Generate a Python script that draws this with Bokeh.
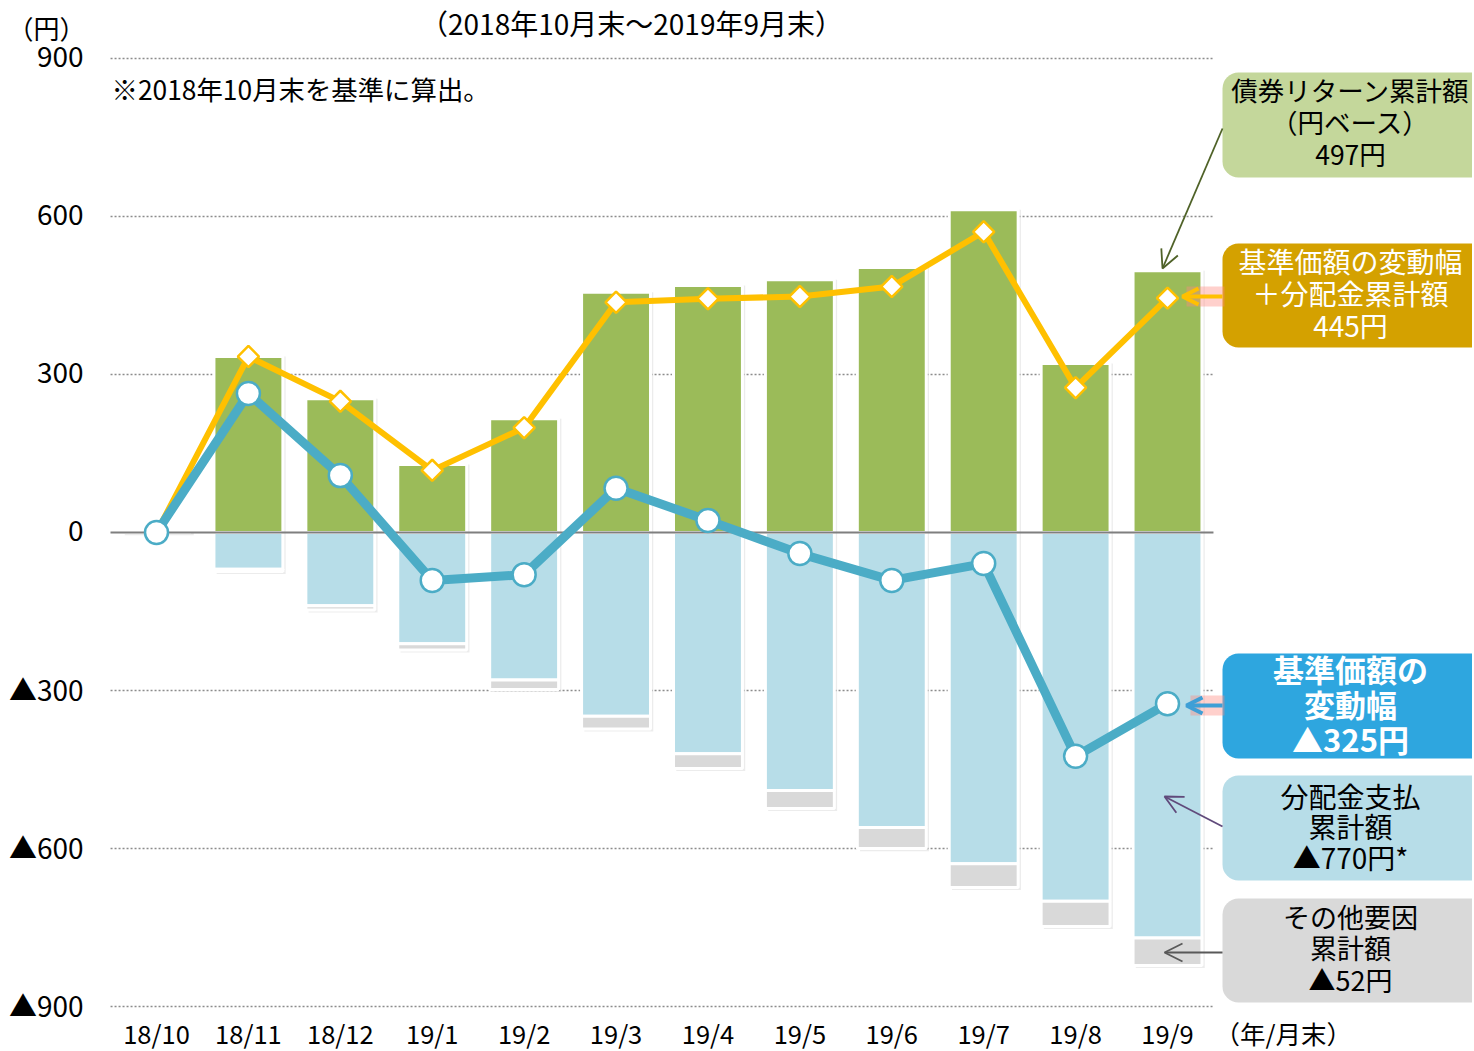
import math
from bokeh.plotting import figure
from bokeh.models import Range1d, BoxAnnotation, Arrow, OpenHead, ColumnDataSource
from bokeh.core.properties import value
from bokeh.embed import file_html
from bokeh.resources import INLINE

# ---- data ----
months = ["18/10", "18/11", "18/12", "19/1", "19/2", "19/3", "19/4", "19/5", "19/6", "19/7", "19/8", "19/9"]
bond_return = [0, 334, 254, 129, 216, 456, 469, 480, 503, 613, 321, 497]          # 債券リターン累計額
distribution = [0, -70, -139, -211, -280, -349, -420, -490, -560, -629, -700, -770]  # 分配金支払累計額
other_factors = [0, -4, -8, -12, -18, -24, -28, -34, -40, -45, -48, -52]            # その他要因累計額
nav_change = [0, 264, 108, -91, -80, 84, 23, -40, -91, -59, -425, -325]             # 基準価額の変動幅
nav_plus_dist = [0, 334, 249, 118, 199, 437, 444, 448, 467, 571, 275, 445]          # 基準価額の変動幅+分配金累計額
y_ticks = [900, 600, 300, 0, -300, -600, -900]
y_tick_labels = ["900", "600", "300", "0", "▲300", "▲600", "▲900"]

FONT = "Noto Sans CJK JP"
TXT_OFF = -2  # small visual correction of the CJK font's middle baseline

# canvas-pixel -> data helpers (for annotation placement)
X0, DX = 156.0, 91.91
Y0, SY = 532.0, 158.0 / 300.0
def dx(px):
    return (px - X0) / DX
def dy(py):
    return (Y0 - py) / SY

W, H = 1472, 1050
p = figure(width=W, height=H, output_backend="svg", toolbar_location=None,
           x_range=Range1d(dx(0), dx(W)), y_range=Range1d(dy(H), dy(0)),
           min_border_left=0, min_border_right=0, min_border_top=0, min_border_bottom=0)
p.outline_line_color = None
p.xgrid.visible = False
p.ygrid.visible = False
p.xaxis.visible = False
p.yaxis.visible = False
p.background_fill_color = "white"

idx = list(range(len(months)))

# dotted gridlines (only across the category span)
grid_vals = [v for v in y_ticks if v != 0]
p.segment(x0=[-0.5] * len(grid_vals), x1=[11.5] * len(grid_vals), y0=grid_vals, y1=grid_vals,
          line_color="#8c8c8c", line_width=1.5, line_dash="2 2")

# bars
bw = 0.75
dist_bottom = [d + o for d, o in zip(distribution, other_factors)]
src = ColumnDataSource(dict(x=idx, bond=bond_return, dist=distribution, dbot=dist_bottom,
                            zero=[0] * len(idx)))
# soft shadow
p.vbar(x=[i + 0.03 for i in idx], width=bw, top=bond_return, bottom=[b - 5 for b in dist_bottom],
       fill_color="#bfbfbf", fill_alpha=0.3, line_color=None)
p.vbar(x="x", width=bw, top="bond", bottom="zero", source=src,
       fill_color="#9BBB59", line_color="white", line_width=3)
p.vbar(x="x", width=bw, top="zero", bottom="dist", source=src,
       fill_color="#B7DDE8", line_color="white", line_width=3)
p.vbar(x="x", width=bw, top="dist", bottom="dbot", source=src,
       fill_color="#D9D9D9", line_color="white", line_width=3)

# zero line
p.segment(x0=[dx(110)], x1=[11.5], y0=[0], y1=[0], line_color="#7f7f7f", line_width=2)

# lines
p.line(idx, nav_plus_dist, line_color="#FFC000", line_width=6)
p.line(idx, nav_change, line_color="#4BACC6", line_width=9)
p.scatter(idx, nav_plus_dist, marker="square", size=15, angle=math.pi / 4, fill_color="white",
          line_color="#FFC000", line_width=2.5)
p.scatter(idx, nav_change, marker="circle", size=23, fill_color="white",
          line_color="#4BACC6", line_width=2.5)

# value-axis tick labels, placed through the y scale
p.text(x=[dx(83)] * len(y_ticks), y=y_ticks, text=y_tick_labels, text_font=value(FONT),
       text_font_size="28px", text_color="#000000", text_align="right", text_baseline="middle",
       y_offset=TXT_OFF)

# category labels, placed through the x scale
p.text(x=idx, y=[dy(1034)] * len(idx), text=months, text_font=value(FONT), text_font_size="25.5px",
       text_color="#000000", text_align="center", text_baseline="middle", y_offset=TXT_OFF)

def txt(x, y, s, size="25px", color="#000000", align="center", style="normal", off=TXT_OFF):
    p.text(x=[x], y=[y], text=[s], text_font=value(FONT), text_font_size=size,
           text_color=color, text_align=align, text_baseline="middle", text_font_style=style,
           y_offset=off)

txt(dx(1214), dy(1034), "（年/月末）", size="25.5px", align="left")
txt(dx(631), dy(22), "（2018年10月末～2019年9月末）", size="28px", off=0)
txt(dx(111), dy(90), "※2018年10月末を基準に算出。", size="26.4px", align="left")
txt(dx(46), dy(29), "（円）", size="26px")

# right-hand callout boxes
boxes = [
    (72, 177, "#C4D79B", ["債券リターン累計額", "（円ベース）", "497円"], [91, 123, 155], "#000000", "26.5px", "normal"),
    (243, 347, "#D4A100", ["基準価額の変動幅", "＋分配金累計額", "445円"], [262, 294, 326], "#FFFFFF", "28px", "normal"),
    (653, 758, "#2EA6DF", ["基準価額の", "変動幅", "▲325円"], [670, 705, 740], "#FFFFFF", "31px", "bold"),
    (775, 880, "#B7DDE8", ["分配金支払", "累計額", "▲770円*"], [797, 827, 858], "#000000", "28px", "normal"),
    (898, 1002, "#D9D9D9", ["その他要因", "累計額", "▲52円"], [918, 949, 981], "#000000", "27px", "normal"),
]
for top, bot, col, lines, ys, tcol, fs, st in boxes:
    p.add_layout(BoxAnnotation(left=dx(1222), right=dx(1490), top=dy(top), bottom=dy(bot),
                               fill_color=col, fill_alpha=1.0, line_color=None, border_radius=16,
                               level="underlay"))
    for s, yy in zip(lines, ys):
        txt(dx(1350), dy(yy), s, size=fs, color=tcol, style=st)

# glows behind the two highlighted arrows
p.segment(x0=[dx(1186)], x1=[dx(1224)], y0=[dy(296)], y1=[dy(296)],
          line_color="#FF8A80", line_alpha=0.4, line_width=20)
p.segment(x0=[dx(1190)], x1=[dx(1224)], y0=[dy(705)], y1=[dy(705)],
          line_color="#FF8A80", line_alpha=0.4, line_width=20)

# arrows
def arrow(x1, y1, x2, y2, color, lw, head=16):
    p.add_layout(Arrow(end=OpenHead(size=head, line_color=color, line_width=lw),
                       x_start=dx(x1), y_start=dy(y1), x_end=dx(x2), y_end=dy(y2),
                       line_color=color, line_width=lw))

arrow(1222, 128, 1162, 268, "#4F6228", 1.8, 18)
arrow(1222, 296, 1182, 296, "#FFC000", 4, 16)
arrow(1222, 705, 1186, 705, "#3E9FD6", 4, 16)
arrow(1222, 826, 1164, 796, "#604A7B", 1.8, 18)
arrow(1222, 952, 1164, 952, "#595959", 1.8, 18)

open("out.html", "w").write(file_html(p, INLINE))
